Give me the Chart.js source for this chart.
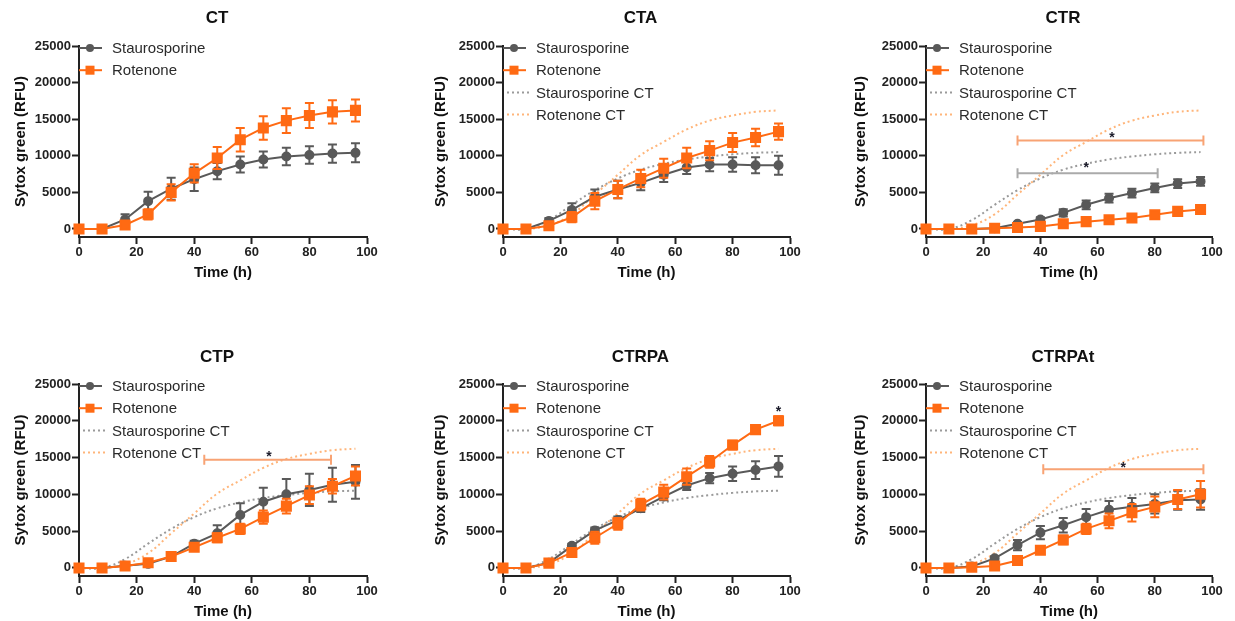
<!DOCTYPE html>
<html>
<head>
<meta charset="utf-8">
<script src="https://cdn.jsdelivr.net/npm/chart.js@4.4.0/dist/chart.umd.min.js"></script>
<style>
  body { margin: 0; background: #fff; width: 1235px; height: 621px; position: relative; overflow: hidden; }
  canvas { position: absolute; }
</style>
</head>
<body>
<canvas id="c0" width="410" height="300" style="left:0;top:0"></canvas>
<canvas id="c1" width="410" height="300" style="left:420px;top:0"></canvas>
<canvas id="c2" width="395" height="300" style="left:840px;top:0"></canvas>
<canvas id="c3" width="410" height="291" style="left:0;top:330px"></canvas>
<canvas id="c4" width="410" height="291" style="left:420px;top:330px"></canvas>
<canvas id="c5" width="395" height="291" style="left:840px;top:330px"></canvas>

<script>
// time points (h) and axis ticks
const hours = [0, 8, 16, 24, 32, 40, 48, 56, 64, 72, 80, 88, 96];
const yTicks = [0, 5000, 10000, 15000, 20000, 25000];
const xTicks = [0, 20, 40, 60, 80, 100];

// CT
const ctStauro    = [0, 0, 1300, 3800, 5500, 6800, 7900, 8800, 9500, 9900, 10100, 10300, 10400];
const ctStauroErr = [0, 0, 700, 1300, 1500, 1600, 1100, 1100, 1100, 1200, 1200, 1250, 1300];
const ctRoten     = [0, 0, 550, 2000, 5000, 7600, 9700, 12200, 13800, 14800, 15500, 16000, 16200];
const ctRotenErr  = [0, 0, 300, 700, 1100, 1250, 1500, 1600, 1600, 1700, 1700, 1600, 1500];

// CT reference curves (dotted, in the other panels)
const fitStauro = [0, 0, 1200, 3300, 5300, 6900, 8100, 8900, 9500, 9900, 10200, 10400, 10500];
const fitRoten  = [0, 0, 500, 2000, 4700, 7400, 10100, 11900, 13600, 14800, 15500, 16000, 16200];

// CTA
const ctaStauro    = [0, 0, 1100, 2600, 4400, 5400, 6300, 7400, 8400, 8800, 8800, 8700, 8700];
const ctaStauroErr = [0, 0, 400, 900, 1000, 1200, 1000, 1000, 900, 900, 1000, 1100, 1300];
const ctaRoten     = [0, 0, 450, 1600, 3800, 5400, 6900, 8300, 9700, 10700, 11800, 12500, 13300];
const ctaRotenErr  = [0, 0, 300, 700, 1100, 1200, 1200, 1300, 1400, 1300, 1300, 1200, 1100];

// CTR
const ctrStauro    = [0, 0, 0, 100, 700, 1300, 2200, 3300, 4200, 4900, 5600, 6200, 6500];
const ctrStauroErr = [0, 0, 0, 0, 200, 300, 500, 600, 600, 600, 600, 600, 600];
const ctrRoten     = [0, 0, 0, 100, 200, 350, 700, 1000, 1250, 1500, 1950, 2400, 2650];
const ctrRotenErr  = [0, 0, 0, 0, 0, 0, 200, 300, 300, 300, 400, 400, 600];
const ctrSigBars = [[32, 97, 12100, 'rot'], [32, 81, 7600, 'stau']];
const ctrStars = [[65, 13000], [56, 8800]];

// CTP
const ctpStauro    = [0, 0, 300, 550, 1550, 3300, 4700, 7200, 9000, 10000, 10600, 11300, 11700];
const ctpStauroErr = [0, 0, 200, 300, 300, 400, 1100, 1600, 1900, 2100, 2200, 2300, 2300];
const ctpRoten     = [0, 0, 250, 700, 1550, 2800, 4100, 5300, 6900, 8400, 9900, 11100, 12500];
const ctpRotenErr  = [0, 0, 200, 400, 300, 500, 600, 700, 900, 1000, 1200, 1000, 1300];
const ctpSigBars = [[43.5, 87.5, 14700, 'rot']];
const ctpStars = [[66, 15600]];

// CTRPA
const ctrpaStauro    = [0, 0, 700, 3000, 5100, 6500, 8100, 9700, 11200, 12200, 12800, 13300, 13800];
const ctrpaStauroErr = [0, 0, 200, 300, 400, 500, 500, 500, 600, 700, 1000, 1200, 1400];
const ctrpaRoten     = [0, 0, 650, 2100, 4100, 6000, 8600, 10300, 12400, 14400, 16700, 18800, 20000];
const ctrpaRotenErr  = [0, 0, 200, 500, 800, 800, 800, 1000, 1100, 800, 600, 500, 600];
const ctrpaStars = [[96, 21700]];

// CTRPAt
const ctrpatStauro    = [0, 0, 200, 1300, 3100, 4800, 5800, 6900, 7900, 8300, 8700, 9200, 9300];
const ctrpatStauroErr = [0, 0, 100, 300, 700, 900, 1000, 1100, 1200, 1200, 1300, 1300, 1400];
const ctrpatRoten     = [0, 0, 100, 250, 1000, 2400, 3800, 5300, 6400, 7500, 8300, 9300, 10000];
const ctrpatRotenErr  = [0, 0, 0, 0, 200, 300, 600, 700, 1000, 1200, 1400, 1300, 1800];
const ctrpatSigBars = [[41, 97, 13400, 'rot']];
const ctrpatStars = [[69, 14100]];

const FONT = 'Arial, "Liberation Sans", sans-serif';
const GRAY = '#595959';
const ORANGE = '#ff6a13';
const GRAY_CT = '#9a9a9a';
const ORANGE_CT = '#ffb57a';
const SIG = { rot: '#f8a374', stau: '#aaaaaa' };

const panels = [
  { id: 'c0', title: 'CT', s: ctStauro, se: ctStauroErr, r: ctRoten, re: ctRotenErr, ref: false, bars: [], stars: [],
    box: { left: 79, right: 367, top: 46, bottom: 237, titleY: 18, xPad: 18 } },
  { id: 'c1', title: 'CTA', s: ctaStauro, se: ctaStauroErr, r: ctaRoten, re: ctaRotenErr, ref: true, bars: [], stars: [],
    box: { left: 83, right: 370, top: 46, bottom: 237, titleY: 18, xPad: 18 } },
  { id: 'c2', title: 'CTR', s: ctrStauro, se: ctrStauroErr, r: ctrRoten, re: ctrRotenErr, ref: true, bars: ctrSigBars, stars: ctrStars,
    box: { left: 86, right: 372, top: 46, bottom: 237, titleY: 18, xPad: 18 } },
  { id: 'c3', title: 'CTP', s: ctpStauro, se: ctpStauroErr, r: ctpRoten, re: ctpRotenErr, ref: true, bars: ctpSigBars, stars: ctpStars,
    box: { left: 79, right: 367, top: 54, bottom: 246, titleY: 27, xPad: 0 } },
  { id: 'c4', title: 'CTRPA', s: ctrpaStauro, se: ctrpaStauroErr, r: ctrpaRoten, re: ctrpaRotenErr, ref: true, bars: [], stars: ctrpaStars,
    box: { left: 83, right: 370, top: 54, bottom: 246, titleY: 27, xPad: 0 } },
  { id: 'c5', title: 'CTRPAt', s: ctrpatStauro, se: ctrpatStauroErr, r: ctrpatRoten, re: ctrpatRotenErr, ref: true, bars: ctrpatSigBars, stars: ctrpatStars,
    box: { left: 86, right: 372, top: 54, bottom: 246, titleY: 27, xPad: 0 } }
];

const toXY = arr => hours.map((h, i) => ({ x: h, y: arr[i] }));

// error bars drawn just before their own dataset
const errorBars = {
  id: 'errorBars',
  beforeDatasetDraw(chart, args) {
    const ds = chart.data.datasets[args.index];
    if (!ds.err) return;
    const ctx = chart.ctx, ys = chart.scales.y;
    ctx.save();
    ctx.strokeStyle = ds.borderColor;
    ctx.lineWidth = 2;
    args.meta.data.forEach((pt, i) => {
      const e = ds.err[i];
      if (!e) return;
      const v = ds.data[i].y;
      const y1 = ys.getPixelForValue(v + e), y2 = ys.getPixelForValue(v - e);
      ctx.beginPath();
      ctx.moveTo(pt.x, y1); ctx.lineTo(pt.x, y2);
      ctx.moveTo(pt.x - 4.5, y1); ctx.lineTo(pt.x + 4.5, y1);
      ctx.moveTo(pt.x - 4.5, y2); ctx.lineTo(pt.x + 4.5, y2);
      ctx.stroke();
    });
    ctx.restore();
  }
};

// title, legend, significance bars and stars
const decorations = {
  id: 'decorations',
  afterDatasetsDraw(chart, args, opts) {
    const ctx = chart.ctx, a = chart.chartArea;
    const xs = chart.scales.x, ys = chart.scales.y;
    ctx.save();

    opts.bars.forEach(([from, to, val, kind]) => {
      const x1 = xs.getPixelForValue(from), x2 = xs.getPixelForValue(to), y = ys.getPixelForValue(val);
      ctx.strokeStyle = SIG[kind];
      ctx.lineWidth = 2;
      ctx.beginPath();
      ctx.moveTo(x1, y); ctx.lineTo(x2, y);
      ctx.moveTo(x1, y - 5); ctx.lineTo(x1, y + 5);
      ctx.moveTo(x2, y - 5); ctx.lineTo(x2, y + 5);
      ctx.stroke();
    });
    ctx.fillStyle = '#1b1b2a';
    ctx.font = 'bold 14px ' + FONT;
    ctx.textAlign = 'center';
    ctx.textBaseline = 'middle';
    opts.stars.forEach(([xv, yv]) => {
      ctx.fillText('*', xs.getPixelForValue(xv), ys.getPixelForValue(yv) + 4);
    });

    // panel title
    ctx.fillStyle = '#111';
    ctx.font = 'bold 17px ' + FONT;
    ctx.fillText(opts.title, (a.left + a.right) / 2 - 6, opts.titleY);

    // legend inside the plot, top left
    ctx.font = '15px ' + FONT;
    ctx.textAlign = 'left';
    chart.data.datasets.forEach((ds, i) => {
      const y = a.top + 2 + i * 22.2;
      ctx.strokeStyle = ds.borderColor;
      ctx.fillStyle = ds.borderColor;
      ctx.lineWidth = 2;
      ctx.beginPath();
      if (ds.borderDash) {
        ctx.setLineDash([2, 3]);
        ctx.moveTo(a.left + 4, y); ctx.lineTo(a.left + 27, y);
        ctx.stroke();
        ctx.setLineDash([]);
      } else {
        ctx.moveTo(a.left, y); ctx.lineTo(a.left + 23, y);
        ctx.stroke();
        if (ds.pointStyle === 'rect') {
          ctx.fillRect(a.left + 11 - 4.5, y - 4.5, 9, 9);
        } else {
          ctx.beginPath();
          ctx.arc(a.left + 11, y, 4, 0, Math.PI * 2);
          ctx.fill();
        }
      }
      ctx.fillStyle = '#2b2b2b';
      ctx.fillText(ds.label, a.left + 33, y + 1);
    });
    ctx.restore();
  }
};

panels.forEach(p => {
  const canvas = document.getElementById(p.id);
  const b = p.box;
  const datasets = [
    { label: 'Staurosporine', data: toXY(p.s), err: p.se, borderColor: GRAY, backgroundColor: GRAY,
      borderWidth: 2, pointStyle: 'circle', pointRadius: 4, order: 1, clip: false },
    { label: 'Rotenone', data: toXY(p.r), err: p.re, borderColor: ORANGE, backgroundColor: ORANGE,
      borderWidth: 2, pointStyle: 'rect', pointRadius: 6.4, order: 0, clip: false }
  ];
  if (p.ref) {
    datasets.push(
      { label: 'Staurosporine CT', data: toXY(fitStauro), borderColor: GRAY_CT, borderWidth: 2,
        borderDash: [2, 3], pointRadius: 0, tension: 0.4, order: 2 },
      { label: 'Rotenone CT', data: toXY(fitRoten), borderColor: ORANGE_CT, borderWidth: 2,
        borderDash: [2, 3], pointRadius: 0, tension: 0.4, order: 3 }
    );
  }

  new Chart(canvas.getContext('2d'), {
    type: 'line',
    data: { datasets },
    options: {
      responsive: false,
      animation: false,
      layout: { padding: { left: 0, top: b.top, right: canvas.width - b.right, bottom: 0 } },
      plugins: {
        legend: { display: false },
        tooltip: { enabled: false },
        decorations: { title: p.title, titleY: b.titleY, bars: p.bars, stars: p.stars }
      },
      scales: {
        x: {
          type: 'linear', min: 0, max: 100,
          afterBuildTicks: s => { s.ticks = xTicks.map(v => ({ value: v })); },
          afterFit: s => { s.height = canvas.height - b.bottom; },
          grid: { drawOnChartArea: false, drawTicks: true, tickLength: 7, tickWidth: 2, tickColor: '#222' },
          border: { display: true, color: '#222', width: 2 },
          ticks: { color: '#222', padding: 1, maxRotation: 0, callback: v => String(v),
            font: { family: FONT, size: 13, weight: 'bold' } },
          title: { display: true, text: 'Time (h)', color: '#111', padding: { top: 0, bottom: b.xPad },
            font: { family: FONT, size: 15, weight: 'bold' } }
        },
        y: {
          min: -1100, max: 25000,
          afterBuildTicks: s => { s.ticks = yTicks.map(v => ({ value: v })); },
          afterFit: s => { s.width = b.left; },
          grid: { drawOnChartArea: false, drawTicks: true, tickLength: 7, tickWidth: 2, tickColor: '#222' },
          border: { display: true, color: '#222', width: 2 },
          ticks: { color: '#222', padding: 1, callback: v => String(v),
            font: { family: FONT, size: 13, weight: 'bold' } },
          title: { display: true, text: 'Sytox green (RFU)', color: '#111', padding: { top: 12, bottom: 0 },
            font: { family: FONT, size: 15, weight: 'bold' } }
        }
      }
    },
    plugins: [errorBars, decorations]
  });
});
</script>
</body>
</html>
